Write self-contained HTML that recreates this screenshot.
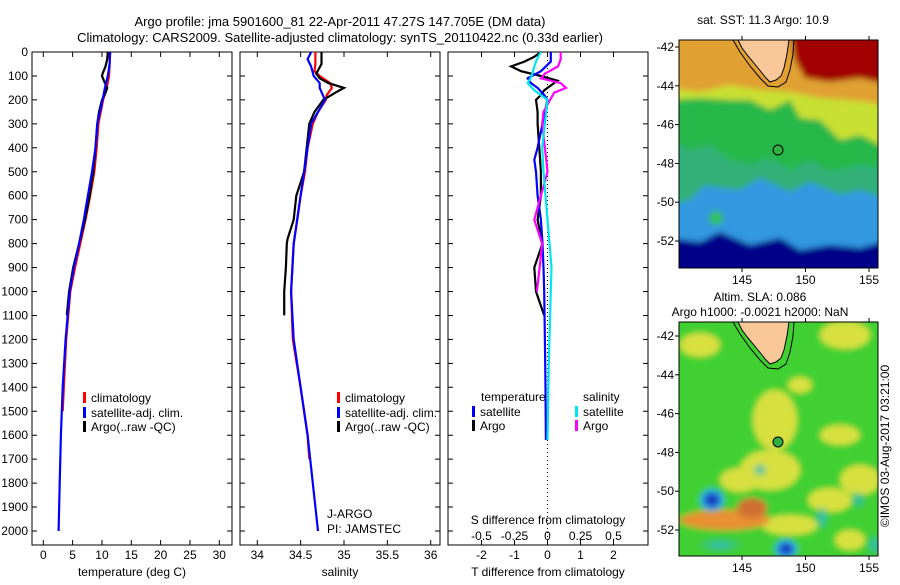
<!DOCTYPE html>
<html><head><meta charset="utf-8"><style>
body{margin:0;background:#fff;}
svg text{font-family:"Liberation Sans",sans-serif;font-size:12px;fill:#000;}
</style></head><body>
<svg id="c" width="900" height="580" xmlns="http://www.w3.org/2000/svg">
<defs>
<filter id="bl" x="-10%" y="-10%" width="120%" height="120%"><feGaussianBlur stdDeviation="3"/></filter>
<clipPath id="m1"><rect x="679" y="40" width="199" height="228"/></clipPath>
<clipPath id="m2"><rect x="679" y="322" width="199" height="234"/></clipPath>
<radialGradient id="eddy"><stop offset="0" stop-color="#101090"/><stop offset="0.45" stop-color="#2060e0"/><stop offset="0.8" stop-color="#30c0d0"/><stop offset="1" stop-color="#30c0d0" stop-opacity="0"/></radialGradient>
<radialGradient id="cy"><stop offset="0" stop-color="#30b8c8"/><stop offset="1" stop-color="#30b8c8" stop-opacity="0"/></radialGradient>
</defs>
<text x="340" y="26" text-anchor="middle" style="font-size:13px">Argo profile: jma 5901600_81 22-Apr-2011 47.27S 147.705E (DM data)</text>
<text x="340" y="42" text-anchor="middle" style="font-size:13px">Climatology: CARS2009. Satellite-adjusted climatology: synTS_20110422.nc (0.33d earlier)</text>
<g id="maps"></g>
<g id="plots"></g>
</svg>
<script>
// depth grid
const depthTicks=[0,100,200,300,400,500,600,700,800,900,1000,1100,1200,1300,1400,1500,1600,1700,1800,1900,2000];
// temperature panel
const tempTicks=[0,5,10,15,20,25,30];
const climTD=[0,50,100,150,200,300,400,500,600,700,800,900,1000,1200,1400,1500];
const climT=[11.3,11.3,11.2,10.8,10.2,9.4,9.1,8.7,8.0,7.2,6.3,5.4,4.6,3.9,3.5,3.3];
const satTD=[0,50,100,150,200,300,400,500,600,700,800,900,1000,1200,1400,1600,1800,2000];
const satT=[11.4,11.3,11.0,10.5,10.1,9.2,8.9,8.3,7.6,6.9,6.1,5.2,4.5,3.8,3.3,3.0,2.8,2.6];
const argoTD=[0,30,60,90,100,130,150,170,200,250,300,400,500,600,700,800,900,1000,1100];
const argoT=[11.0,10.9,10.6,10.1,10.0,10.5,10.9,10.6,10.0,9.5,9.2,8.9,8.5,7.9,7.1,6.1,5.1,4.4,4.0];
// salinity panel
const salTicks=[34,34.5,35,35.5,36];
const climSD=[0,50,80,100,130,150,180,200,250,300,400,500,600,700,800,1000,1200,1400,1600,1700];
const climS=[34.67,34.67,34.66,34.72,34.84,34.86,34.8,34.79,34.7,34.64,34.58,34.55,34.5,34.46,34.42,34.39,34.41,34.5,34.58,34.6];
const satSD=[0,30,60,100,130,150,200,250,300,400,500,600,700,800,1000,1200,1400,1600,1800,2000];
const satS=[34.62,34.58,34.62,34.65,34.72,34.72,34.78,34.7,34.62,34.58,34.54,34.5,34.46,34.42,34.39,34.42,34.5,34.58,34.64,34.7];
const argoSD=[0,50,90,110,130,150,170,200,250,300,400,500,600,700,780,800,900,1000,1100];
const argoS=[34.74,34.74,34.68,34.72,34.82,35.0,34.9,34.76,34.66,34.6,34.57,34.54,34.45,34.42,34.35,34.34,34.33,34.31,34.31];
// difference panel
const tdiffTicks=[-2,-1,0,1,2];
const sdiffTicks=[-0.5,-0.25,0,0.25,0.5];
const dArgoD=[0,20,40,60,80,100,120,140,160,180,200,250,300,400,500,600,700,800,900,1000,1100];
const dArgoT=[-0.2,-0.4,-0.7,-1.1,-0.8,-0.2,0.3,0.1,-0.1,-0.2,-0.35,-0.3,-0.3,-0.25,-0.2,-0.2,-0.3,-0.15,-0.4,-0.35,-0.1];
const dSatTD=[0,40,80,110,130,150,180,200,300,400,450,500,600,700,800,900,1000,1200,1400,1620];
const dSatT=[0.1,0.1,-0.2,-0.6,-0.5,-0.3,-0.1,0,-0.15,-0.3,-0.4,-0.35,-0.3,-0.2,-0.15,-0.12,-0.1,-0.08,-0.06,-0.05];
const dSatSD=[0,30,60,100,130,160,200,300,400,500,700,900,1100,1300,1620];
const dSatS=[-0.05,-0.08,-0.1,-0.12,-0.15,-0.1,0,-0.02,-0.04,-0.03,0,0.03,0.02,0.01,0];
const dArgoSD=[0,30,60,90,110,130,150,170,200,250,300,400,500,600,700,800,900,1000];
const dArgoS=[0.1,0.1,0.08,-0.02,-0.05,0.1,0.14,0.05,0.02,-0.03,-0.04,-0.02,0,-0.05,-0.1,-0.04,-0.06,-0.08];
// map ticks
const latTicks=[-42,-44,-46,-48,-50,-52];
const lonTicks=[145,150,155];

const NS='http://www.w3.org/2000/svg';
const P=document.getElementById('plots');
const M=document.getElementById('maps');
function mk(tag,at,par){const e=document.createElementNS(NS,tag);for(const k in at)e.setAttribute(k,at[k]);(par||P).appendChild(e);return e;}
const top0=52,bot=545;
const yD=d=>top0+d*0.2395;
function lin(d0,d1,p0,p1){return v=>p0+(v-d0)*(p1-p0)/(d1-d0);}
const xT=lin(0,30,43.3,219.3);
const xS=lin(34,36,257.3,430.7);
const xTD=lin(0,2,547.5,613.5);
const xSD=lin(0,0.5,547.5,613.5);

function panel(x0,x1,name){
  const r=mk('rect',{x:x0,y:top0,width:x1-x0,height:bot-top0,fill:'none',stroke:'#000','stroke-width':1});
  
  
  depthTicks.forEach(d=>{
    const t=mk('path',{d:`M${x0},${yD(d)}h5M${x1},${yD(d)}h-5`,stroke:'#000'});
    
    
  });
}
function xticks(ticks,fx,x0,x1,y){
  ticks.forEach((v,i)=>{
    const t=mk('path',{d:`M${fx(v)},${bot}v-5M${fx(v)},${top0}v5`,stroke:'#000'});
    
    
    const l=mk('text',{x:fx(v),y:y,'text-anchor':'middle'});
    l.textContent=String(v);
    
    
  });
}
function line(ds,vs,fx,col,name){
  const pts=ds.map((d,i)=>fx(vs[i]).toFixed(1)+','+yD(d).toFixed(1)).join(' ');
  const p=mk('polyline',{points:pts,fill:'none',stroke:col,'stroke-width':2.2});
  
  
}
function txt(x,y,s,name,anchor){
  const t=mk('text',{x:x,y:y,'text-anchor':anchor||'start'});t.textContent=s;
  
  
  return t;
}
function leg(x,y,col,s,name){
  const b=mk('rect',{x:x,y:y-10,width:3,height:11,fill:col});
  
  
  txt(x+8,y,s,name);
}

// panel 1
panel(32,232,'temperature-panel');
depthTicks.forEach(d=>{txt(28,yD(d)+4,String(d),'depth-tick-label','end');});
xticks(tempTicks,xT,32,232,559);
txt(132,576,'temperature (deg C)','x-axis-title-temperature','middle');
line(climTD,climT,xT,'#ff0000','climatology-temperature-line');
line(argoTD,argoT,xT,'#000000','argo-temperature-line');
line(satTD,satT,xT,'#0000ff','satellite-temperature-line');
leg(83,402,'#ff0000','climatology','legend-climatology');
leg(83,417,'#0000ff','satellite-adj. clim.','legend-satellite');
leg(83,431,'#000000','Argo(..raw -QC)','legend-argo');

// panel 2
panel(240,440,'salinity-panel');
xticks(salTicks,xS,240,440,559);
txt(340,576,'salinity','x-axis-title-salinity','middle');
line(climSD,climS,xS,'#ff0000','climatology-salinity-line');
line(argoSD,argoS,xS,'#000000','argo-salinity-line');
line(satSD,satS,xS,'#0000ff','satellite-salinity-line');
leg(337,402,'#ff0000','climatology','legend-climatology-2');
leg(337,417,'#0000ff','satellite-adj. clim.','legend-satellite-2');
leg(337,431,'#000000','Argo(..raw -QC)','legend-argo-2');
txt(327,518,'J-ARGO','pi-label-program');
txt(327,533,'PI: JAMSTEC','pi-label-name');

// panel 3
panel(448,648,'difference-panel');
const zl=mk('line',{x1:xTD(0),x2:xTD(0),y1:top0,y2:bot,stroke:'#000','stroke-dasharray':'1,3'});


xticks(tdiffTicks,xTD,448,648,559);
sdiffTicks.forEach(v=>{txt(xSD(v),540,String(v),'s-diff-tick-label','middle');});
txt(548,524,'S difference from climatology','s-diff-axis-title','middle');
txt(548,576,'T difference from climatology','t-diff-axis-title','middle');
line(dArgoD,dArgoT,xTD,'#000000','argo-t-diff-line');
line(dSatTD,dSatT,xTD,'#0000ff','satellite-t-diff-line');
line(dArgoSD,dArgoS,xSD,'#ff00ff','argo-s-diff-line');
line(dSatSD,dSatS,xSD,'#00e5ee','satellite-s-diff-line');
txt(481,401,'temperature','legend-temperature-header');
leg(472,416,'#0000ff','satellite','legend-t-satellite');
leg(472,430,'#000000','Argo','legend-t-argo');
txt(583,401,'salinity','legend-salinity-header');
leg(575,416,'#00e5ee','satellite','legend-s-satellite');
leg(575,430,'#ff00ff','Argo','legend-s-argo');

// maps
function mp(tag,at){return mk(tag,at,M);}
const lonX=lin(145,150,742,805.5);
function mapFrame(y0,h,latTop,name){
  const latY=lat=>latTop+( -42-lat)*19.4;
  latTicks.forEach(l=>{
    const t=mp('text',{x:674,y:latY(l)+4,'text-anchor':'end'});t.textContent=String(l);
    
    
    const k=mp('path',{d:`M679,${latY(l)}h-4`,stroke:'#000'});
    
    
  });
  lonTicks.forEach(l=>{
    const t=mp('text',{x:lonX(l),y:y0+h+16,'text-anchor':'middle'});t.textContent=String(l);
    
    
    const k=mp('path',{d:`M${lonX(l)},${y0+h}v4M${lonX(l)},${y0}v-4`,stroke:'#000'});
    
    
  });
  const r=mp('rect',{x:679,y:y0,width:199,height:h,fill:'none',stroke:'#000'});
  
  
}
function tas(dy,g){
  const land='738,0 789,0 787,14 784,28 781,36 776,40 770,42 766,38 758,28 748,16 742,8';
  const p=mk('polygon',{points:land,transform:`translate(0,${dy})`,fill:'#fac898',stroke:'#000','stroke-width':1},g);
  
  
  const c=mk('polyline',{points:'733,0 740,12 750,26 760,38 768,46 778,47 786,42 790,30 793,14 794,0',transform:`translate(0,${dy})`,fill:'none',stroke:'#000','stroke-width':1},g);
  
  
}
// map 1 SST
const g1=mk('g',{'clip-path':'url(#m1)'},M);


const f1=mk('g',{filter:'url(#bl)'},g1);
mk('rect',{x:670,y:30,width:220,height:250,fill:'#28b848'},f1);
mk('polygon',{points:'670,30 890,30 890,150 860,135 840,140 820,120 800,118 790,100 770,110 750,100 730,100 700,98 670,100',fill:'#c8e030'},f1);
mk('polygon',{points:'670,30 890,30 890,105 850,100 820,98 790,92 760,90 730,85 700,92 670,88',fill:'#e0a030'},f1);
mk('polygon',{points:'790,30 890,30 890,85 860,78 830,82 805,78 795,60',fill:'#a00000'},f1);
mk('polygon',{points:'670,140 690,150 710,145 730,160 750,165 770,158 790,170 810,160 830,172 860,165 890,170 890,280 670,280',fill:'#30b078'},f1);
mk('polygon',{points:'670,205 690,200 705,185 720,188 740,190 760,178 790,192 810,182 840,195 860,190 890,200 890,280 670,280',fill:'#3098e0'},f1);
mk('polygon',{points:'670,238 700,242 720,232 750,245 780,238 800,250 830,245 860,248 890,240 890,280 670,280',fill:'#000088'},f1);
mk('circle',{cx:716,cy:218,r:7,fill:'#30c050'},f1);
tas(40,g1);
const d1=mp('circle',{cx:778,cy:150,r:5,fill:'#30b040',stroke:'#000'});


mapFrame(40,228,47,'sst-map-frame');
const t1=mp('text',{x:763,y:24,'text-anchor':'middle'});t1.textContent='sat. SST: 11.3 Argo: 10.9';



// map 2 SLA
const g2=mk('g',{'clip-path':'url(#m2)'},M);


const f2=mk('g',{filter:'url(#bl)'},g2);
mk('rect',{x:670,y:315,width:220,height:250,fill:'#40d030'},f2);
[[700,345,20,12],[845,335,25,14],[775,420,22,30],[770,470,30,20],[840,435,20,10],[860,480,20,15],[740,480,20,12],[830,500,22,12],[790,525,28,10],[850,540,15,10],[800,385,12,8]].forEach(e=>mk('ellipse',{cx:e[0],cy:e[1],rx:e[2],ry:e[3],fill:'#d8e040'},f2));
mk('ellipse',{cx:725,cy:520,rx:45,ry:10,fill:'#e89030'},f2);
mk('ellipse',{cx:752,cy:508,rx:15,ry:10,fill:'#d07030'},f2);
mk('ellipse',{cx:712,cy:500,rx:14,ry:13,fill:'url(#eddy)'},f2);
mk('ellipse',{cx:786,cy:549,rx:13,ry:11,fill:'url(#eddy)'},f2);
mk('ellipse',{cx:822,cy:518,rx:8,ry:14,fill:'url(#cy)'},f2);
mk('ellipse',{cx:858,cy:500,rx:8,ry:10,fill:'url(#cy)'},f2);
mk('ellipse',{cx:760,cy:470,rx:8,ry:8,fill:'url(#cy)'},f2);
mk('ellipse',{cx:875,cy:545,rx:10,ry:12,fill:'url(#cy)'},f2);
mk('ellipse',{cx:720,cy:545,rx:25,ry:8,fill:'url(#cy)'},f2);
tas(322,g2);
const d2=mp('circle',{cx:778,cy:442,r:5,fill:'#30b040',stroke:'#000'});


mapFrame(322,234,336,'sla-map-frame');
const t2=mp('text',{x:760,y:301,'text-anchor':'middle'});t2.textContent='Altim. SLA: 0.086';


const t3=mp('text',{x:760,y:316,'text-anchor':'middle'});t3.textContent='Argo h1000: -0.0021 h2000: NaN';


const ts=mp('text',{x:0,y:0,'text-anchor':'middle',transform:'translate(889,446) rotate(-90)'});ts.textContent='©IMOS 03-Aug-2017 03:21:00';


</script>
</body></html>
